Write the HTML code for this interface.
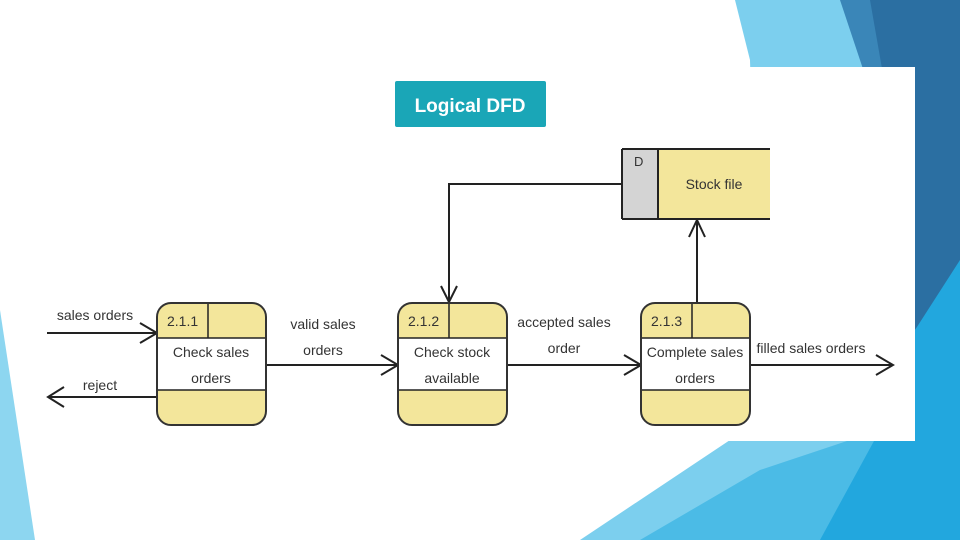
<!DOCTYPE html>
<html><head><meta charset="utf-8"><style>
html,body{margin:0;padding:0;background:#fff;width:960px;height:540px;overflow:hidden}
svg{display:block}
text{font-family:"Liberation Sans",sans-serif;font-size:14px;fill:#333}
</style></head><body>
<svg width="960" height="540" viewBox="0 0 960 540">
<rect width="960" height="540" fill="#fff"/>
<polygon points="735,0 960,0 960,540 580,540 760,420 750,60" fill="#7ccfee"/>
<polygon points="862,0 960,0 960,270 915,330 905,200" fill="#2b6fa2"/>
<polygon points="840,0 870,0 905,200 880,120" fill="#3a86b8"/>
<polygon points="700,540 960,540 960,260 915,330 880,430" fill="#22a7de"/>
<polygon points="640,540 760,470 880,430 820,540" fill="#4bbbe6"/>
<rect x="0" y="67" width="915" height="374" fill="#fff"/>
<polygon points="0,310 35,540 0,540" fill="#8dd6f0"/>
<rect x="395" y="81" width="151" height="46" rx="2" fill="#1aa6b7"/>
<text x="470" y="112" text-anchor="middle" style="font-size:19px;font-weight:bold;fill:#fff">Logical DFD</text>
<g stroke="#222" stroke-width="2" fill="none">
<path d="M622 184H449V302"/><path d="M441 286L449 302L457 286"/>
<path d="M697 303V220"/><path d="M689 237L697 220L705 237"/>
<path d="M47 333H157"/><path d="M140 323L157 333L140 343"/>
<path d="M157 397H48"/><path d="M64 387L48 397L64 407"/>
<path d="M266 365H398"/><path d="M381 355L398 365L381 375"/>
<path d="M507 365H641"/><path d="M624 355L641 365L624 375"/>
<path d="M750 365H893"/><path d="M876 355L893 365L876 375"/>
</g>
<rect x="622" y="149" width="36" height="70" fill="#d4d4d4"/>
<rect x="658" y="149" width="112" height="70" fill="#f3e69b"/>
<path d="M622 149H770M622 219H770M622 149V219M658 149V219" stroke="#222" stroke-width="2" fill="none"/>
<text x="634" y="166" style="font-size:13px">D</text>
<text x="714" y="189" text-anchor="middle">Stock file</text>
<g>
<rect x="157" y="303" width="109" height="122" rx="14" fill="#f3e69b" stroke="#333" stroke-width="2"/>
<rect x="158" y="338" width="107" height="52" fill="#fff"/>
<path d="M158 338H265M158 390H265M208 304V338" stroke="#222" stroke-width="1.5"/>
<rect x="398" y="303" width="109" height="122" rx="14" fill="#f3e69b" stroke="#333" stroke-width="2"/>
<rect x="399" y="338" width="107" height="52" fill="#fff"/>
<path d="M399 338H506M399 390H506M449 304V338" stroke="#222" stroke-width="1.5"/>
<rect x="641" y="303" width="109" height="122" rx="14" fill="#f3e69b" stroke="#333" stroke-width="2"/>
<rect x="642" y="338" width="107" height="52" fill="#fff"/>
<path d="M642 338H749M642 390H749M692 304V338" stroke="#222" stroke-width="1.5"/>
</g>
<text x="167" y="326">2.1.1</text><text x="408" y="326">2.1.2</text><text x="651" y="326">2.1.3</text>
<text x="211" y="357" text-anchor="middle">Check sales</text><text x="211" y="383" text-anchor="middle">orders</text>
<text x="452" y="357" text-anchor="middle">Check stock</text><text x="452" y="383" text-anchor="middle">available</text>
<text x="695" y="357" text-anchor="middle">Complete sales</text><text x="695" y="383" text-anchor="middle">orders</text>
<text x="95" y="320" text-anchor="middle">sales orders</text>
<text x="100" y="390" text-anchor="middle">reject</text>
<text x="323" y="329" text-anchor="middle">valid sales</text><text x="323" y="355" text-anchor="middle">orders</text>
<text x="564" y="327" text-anchor="middle">accepted sales</text><text x="564" y="353" text-anchor="middle">order</text>
<text x="811" y="353" text-anchor="middle">filled sales orders</text>
</svg>
</body></html>
